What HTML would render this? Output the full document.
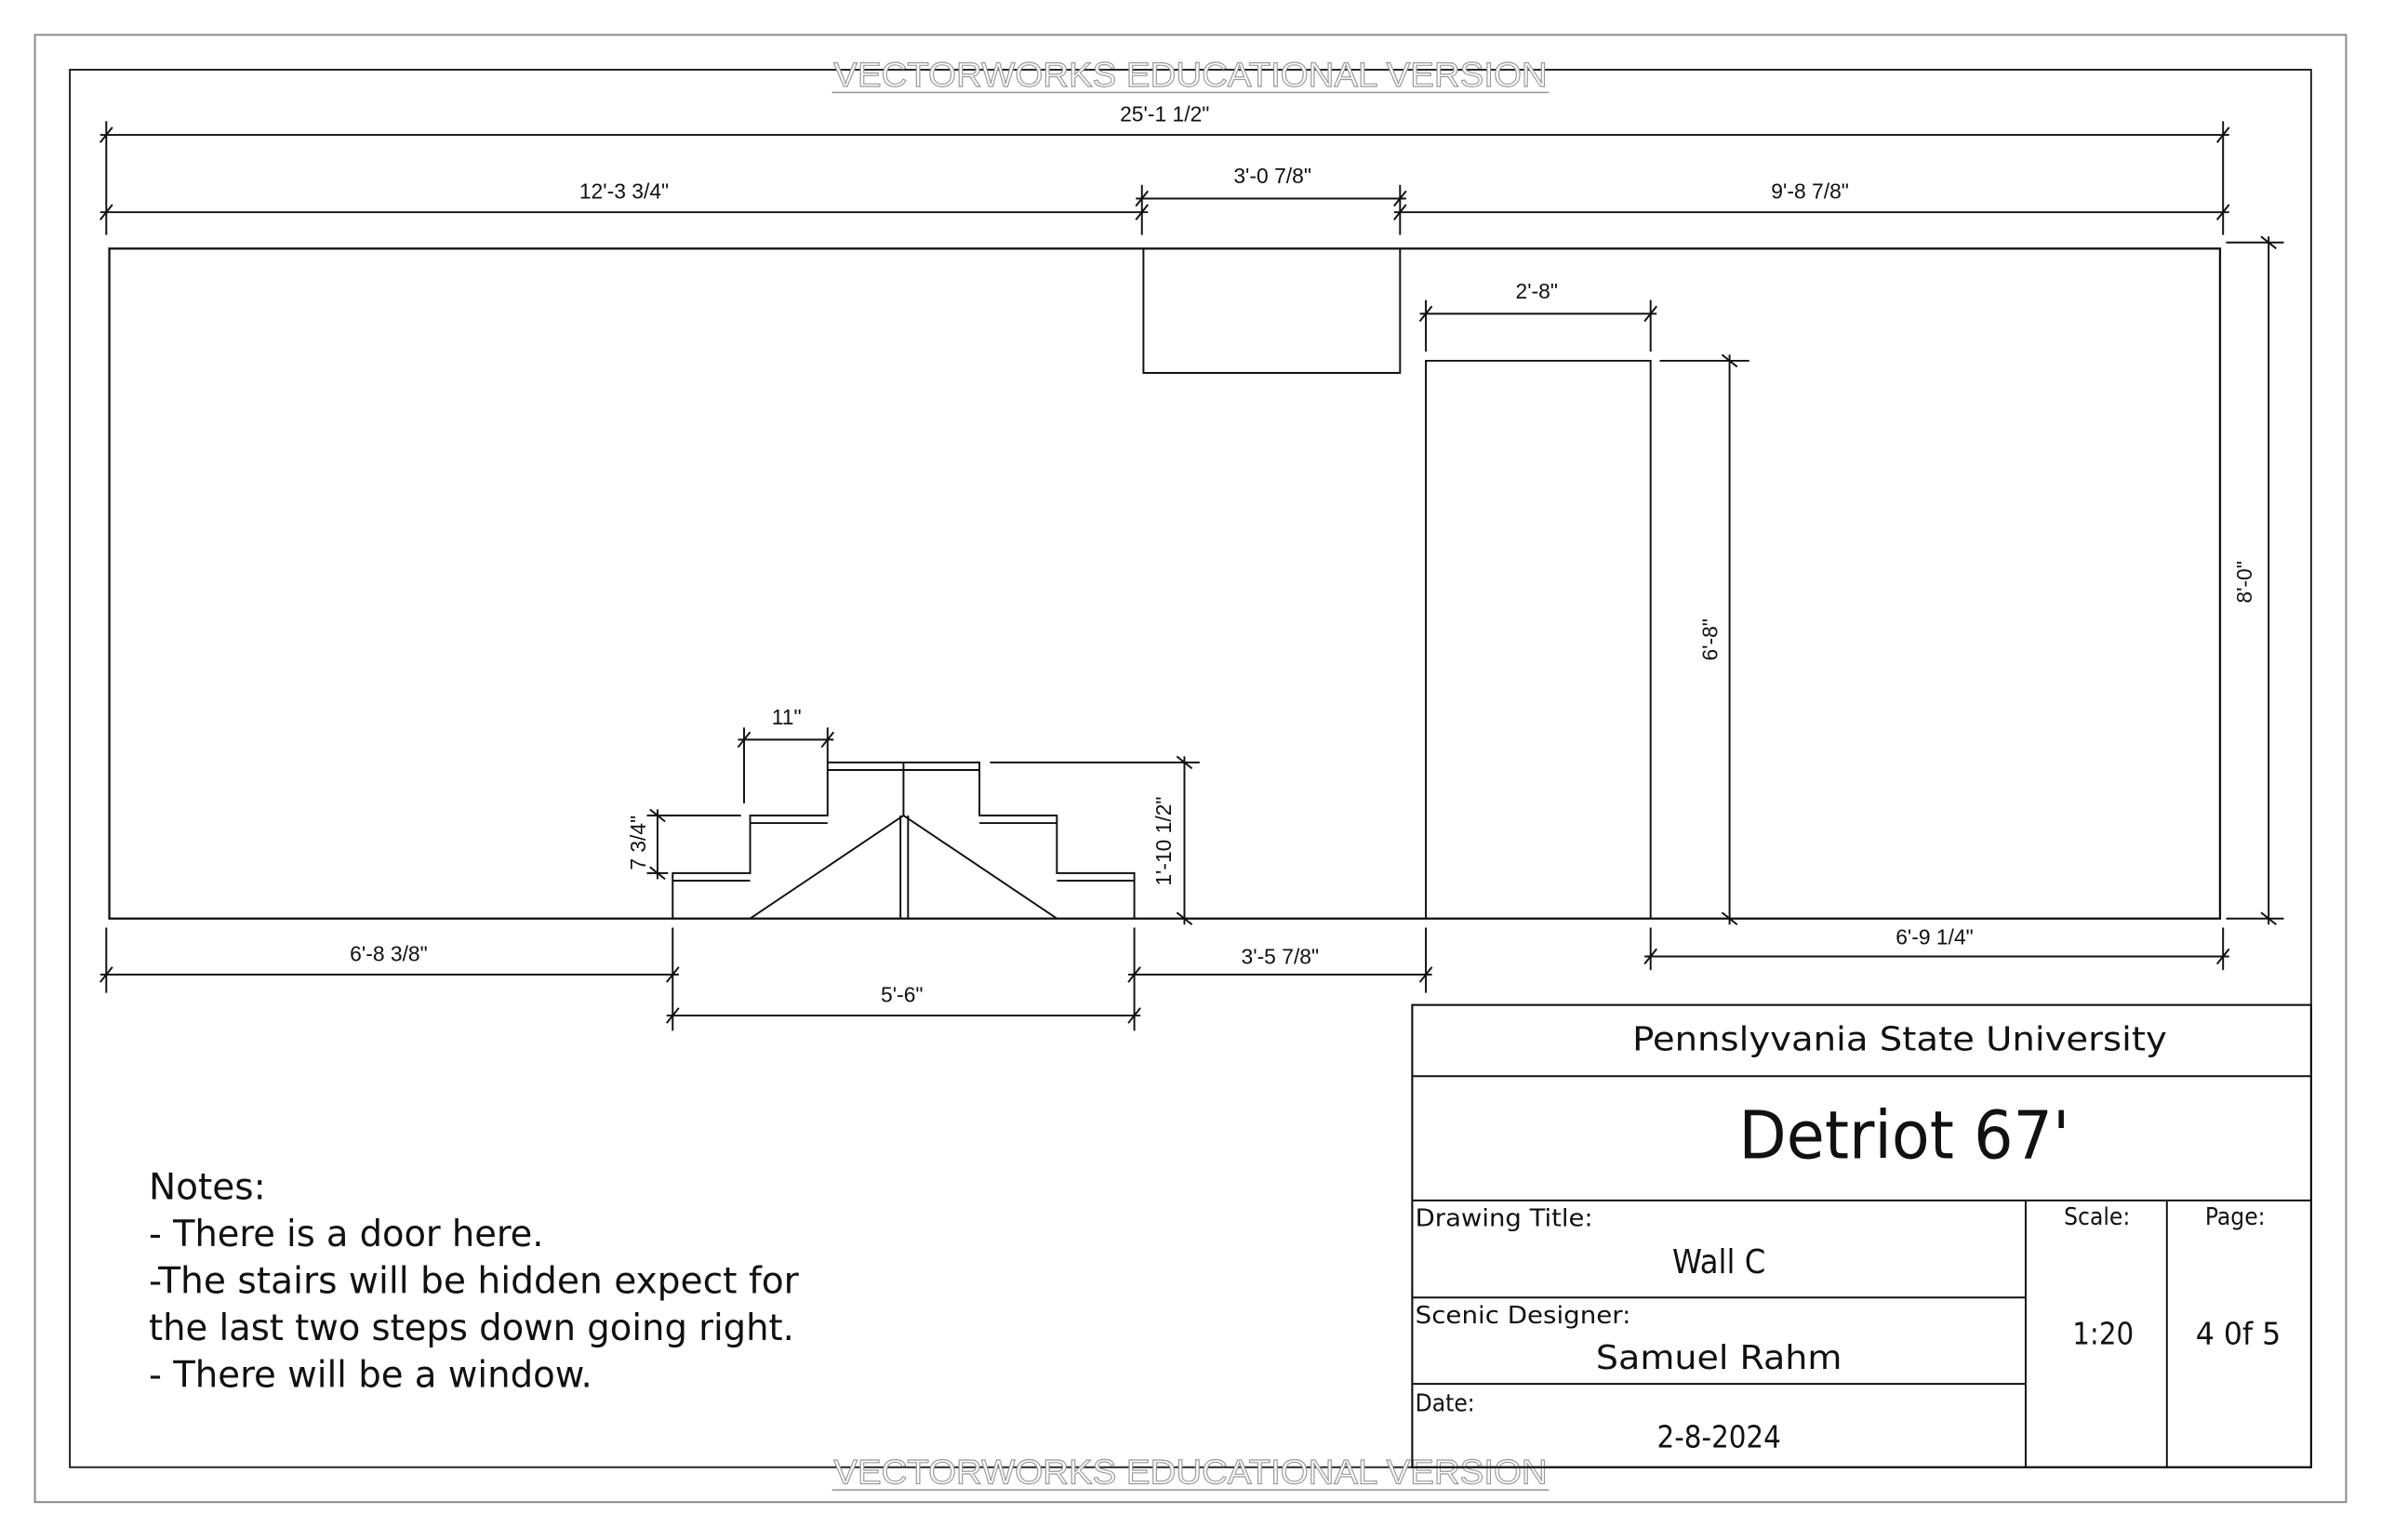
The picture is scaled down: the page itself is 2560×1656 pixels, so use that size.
<!DOCTYPE html>
<html><head><meta charset="utf-8"><style>
html,body{margin:0;padding:0;background:#fff;}
svg{display:block;}
.d{font-family:"Liberation Sans Narrow","Liberation Sans",sans-serif;font-size:14px;fill:#111;text-anchor:middle;}
.t{font-family:"DejaVu Sans Condensed","Liberation Sans Narrow","Liberation Sans",sans-serif;fill:#111;}
</style></head><body>
<svg width="2560" height="1656" viewBox="0 0 1568 1016" preserveAspectRatio="none" xmlns="http://www.w3.org/2000/svg">
<rect width="1568" height="1016" fill="#fff"/>
<rect x="23" y="23" width="1522" height="968" fill="none" stroke="#888" stroke-width="1.2"/>
<rect x="46" y="46" width="1476" height="922" fill="none" stroke="#222" stroke-width="1.2"/>
<g font-family="Liberation Sans Narrow, Liberation Sans, sans-serif" font-size="23" fill="#fff" stroke="#999" stroke-width="0.7" text-anchor="middle">
<text x="784" y="57" textLength="470" lengthAdjust="spacingAndGlyphs">VECTORWORKS EDUCATIONAL VERSION</text>
<text x="784" y="979" textLength="470" lengthAdjust="spacingAndGlyphs">VECTORWORKS EDUCATIONAL VERSION</text>
</g>
<line x1="548" y1="61" x2="1020" y2="61" stroke="#999" stroke-width="1"/>
<line x1="548" y1="983" x2="1020" y2="983" stroke="#999" stroke-width="1"/>

<g stroke="#111" stroke-width="1.2" fill="none">
<rect x="72" y="164" width="1390" height="442" stroke-width="1.4"/>
<polyline points="753,164 753,246 922,246 922,164"/>
<polyline points="939,606 939,238 1087,238 1087,606"/>
<polyline points="443,606 443,576 494,576 494,538 545,538 545,503 645,503 645,538 696,538 696,576 747,576 747,606"/>
<line x1="443" y1="581" x2="494" y2="581"/>
<line x1="494" y1="543" x2="545" y2="543"/>
<line x1="545" y1="508" x2="645" y2="508"/>
<line x1="645" y1="543" x2="696" y2="543"/>
<line x1="696" y1="581" x2="747" y2="581"/>
<line x1="595" y1="503" x2="595" y2="538"/>
<line x1="593" y1="538" x2="593" y2="606"/>
<line x1="598" y1="538" x2="598" y2="606"/>
<polyline points="494,606 595,538 696,606"/>

<line x1="70" y1="80" x2="70" y2="155"/>
<line x1="1464" y1="80" x2="1464" y2="155"/>
<line x1="752" y1="122" x2="752" y2="155"/>
<line x1="922" y1="122" x2="922" y2="155"/>
<line x1="939" y1="198" x2="939" y2="232"/>
<line x1="1087" y1="198" x2="1087" y2="232"/>
<line x1="1093" y1="238" x2="1152" y2="238"/>
<line x1="1466" y1="160" x2="1504" y2="160"/>
<line x1="1466" y1="606" x2="1504" y2="606"/>
<line x1="490" y1="480" x2="490" y2="530"/>
<line x1="545" y1="480" x2="545" y2="503"/>
<line x1="426" y1="538" x2="488" y2="538"/>
<line x1="426" y1="576" x2="440" y2="576"/>
<line x1="652" y1="503" x2="790" y2="503"/>
<line x1="70" y1="612" x2="70" y2="655"/>
<line x1="443" y1="612" x2="443" y2="680"/>
<line x1="747" y1="612" x2="747" y2="680"/>
<line x1="939" y1="612" x2="939" y2="655"/>
<line x1="1087" y1="612" x2="1087" y2="640"/>
<line x1="1464" y1="612" x2="1464" y2="640"/>

<line x1="66" y1="89" x2="1468" y2="89"/>
<line x1="66" y1="140" x2="756" y2="140"/>
<line x1="748" y1="131" x2="926" y2="131"/>
<line x1="918" y1="140" x2="1468" y2="140"/>
<line x1="935" y1="207" x2="1091" y2="207"/>
<line x1="1139" y1="234" x2="1139" y2="610"/>
<line x1="1494" y1="156" x2="1494" y2="610"/>
<line x1="1083" y1="631" x2="1468" y2="631"/>
<line x1="486" y1="488" x2="549" y2="488"/>
<line x1="433" y1="534" x2="433" y2="580"/>
<line x1="780" y1="499" x2="780" y2="610"/>
<line x1="66" y1="643" x2="447" y2="643"/>
<line x1="439" y1="670" x2="751" y2="670"/>
<line x1="743" y1="643" x2="943" y2="643"/>
<path d="M66,94 L74,84 M1460,94 L1468,84 M66,145 L74,135 M748,145 L756,135 M748,136 L756,126 M918,136 L926,126 M918,145 L926,135 M1460,145 L1468,135 M935,212 L943,202 M1083,212 L1091,202 M1134,234 L1144,242 M1134,602 L1144,610 M1489,156 L1499,164 M1489,602 L1499,610 M1083,636 L1091,626 M1460,636 L1468,626 M486,493 L494,483 M541,493 L549,483 M428,534 L438,542 M428,572 L438,580 M775,499 L785,507 M775,602 L785,610 M66,648 L74,638 M439,648 L447,638 M439,675 L447,665 M743,675 L751,665 M743,648 L751,638 M935,648 L943,638"/>

<rect x="930" y="663" width="592" height="305" stroke-width="1.3"/>
<line x1="930" y1="710" x2="1522" y2="710"/>
<line x1="930" y1="792" x2="1522" y2="792"/>
<line x1="1334" y1="792" x2="1334" y2="968"/>
<line x1="1427" y1="792" x2="1427" y2="968"/>
<line x1="930" y1="856" x2="1334" y2="856"/>
<line x1="930" y1="913" x2="1334" y2="913"/>
</g>

<text class="d" x="767" y="80">25'-1 1/2"</text>
<text class="d" x="411" y="131">12'-3 3/4"</text>
<text class="d" x="838" y="121">3'-0 7/8"</text>
<text class="d" x="1192" y="131">9'-8 7/8"</text>
<text class="d" x="1012" y="197">2'-8"</text>
<text class="d" x="1274" y="623">6'-9 1/4"</text>
<text class="d" x="518" y="478">11"</text>
<text class="d" x="256" y="634">6'-8 3/8"</text>
<text class="d" x="594" y="661">5'-6"</text>
<text class="d" x="843" y="636">3'-5 7/8"</text>
<text class="d" transform="translate(1131,422) rotate(-90)">6'-8"</text>
<text class="d" transform="translate(1483,384) rotate(-90)">8'-0"</text>
<text class="d" transform="translate(425,556) rotate(-90)">7 3/4"</text>
<text class="d" transform="translate(771,555) rotate(-90)">1'-10 1/2"</text>

<text class="t" x="1251" y="693" font-size="22" text-anchor="middle" textLength="352" lengthAdjust="spacingAndGlyphs">Pennslyvania State University</text>
<text class="t" x="1254" y="764" font-size="44" text-anchor="middle" textLength="218" lengthAdjust="spacingAndGlyphs">Detriot 67'</text>
<text class="t" x="932" y="809" font-size="16" textLength="117" lengthAdjust="spacingAndGlyphs">Drawing Title:</text>
<text class="t" x="1132" y="840" font-size="22" text-anchor="middle">Wall C</text>
<text class="t" x="932" y="873" font-size="16" textLength="142" lengthAdjust="spacingAndGlyphs">Scenic Designer:</text>
<text class="t" x="1132" y="903" font-size="22" text-anchor="middle" textLength="162" lengthAdjust="spacingAndGlyphs">Samuel Rahm</text>
<text class="t" x="932" y="931" font-size="16">Date:</text>
<text class="t" x="1132" y="955" font-size="20" text-anchor="middle">2-8-2024</text>
<text class="t" x="1381" y="808" font-size="16" text-anchor="middle">Scale:</text>
<text class="t" x="1472" y="808" font-size="16" text-anchor="middle">Page:</text>
<text class="t" x="1385" y="887" font-size="20" text-anchor="middle">1:20</text>
<text class="t" x="1474" y="887" font-size="20" text-anchor="middle" textLength="56" lengthAdjust="spacingAndGlyphs">4 0f 5</text>

<g class="t" font-size="24">
<text x="98" y="791" textLength="77" lengthAdjust="spacingAndGlyphs">Notes:</text>
<text x="98" y="822" textLength="260" lengthAdjust="spacingAndGlyphs">- There is a door here.</text>
<text x="98" y="853" textLength="428" lengthAdjust="spacingAndGlyphs">-The stairs will be hidden expect for</text>
<text x="98" y="884" textLength="425" lengthAdjust="spacingAndGlyphs">the last two steps down going right.</text>
<text x="98" y="915" textLength="292" lengthAdjust="spacingAndGlyphs">- There will be a window.</text>
</g>
</svg>
</body></html>
